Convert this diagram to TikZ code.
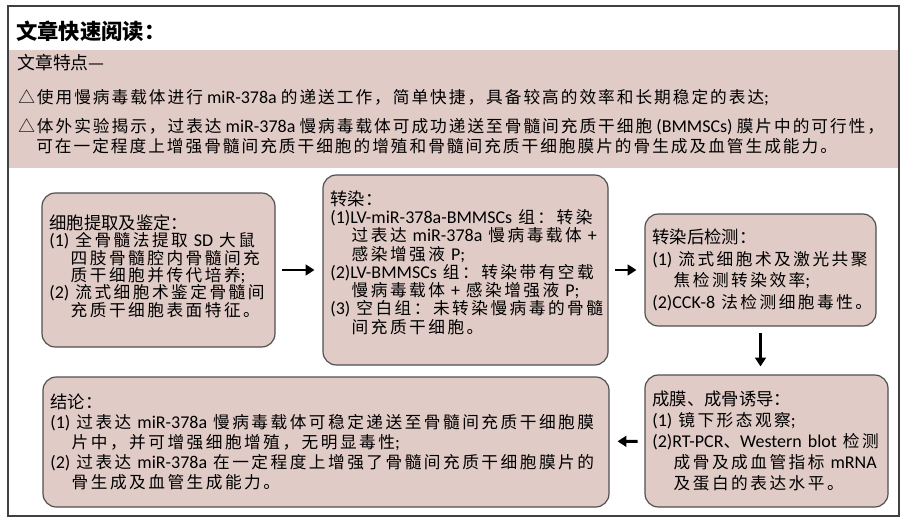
\documentclass[tikz,border=0pt]{standalone}
\usepackage{fontspec}
\setmainfont{Carlito}
\newfontfamily\heifont{Noto Sans CJK SC}
\newfontfamily\kaifont[Scale=0.926, LetterSpace=15]{Noto Sans CJK SC}
\newfontfamily\bandfont[Scale=0.926, LetterSpace=12]{Noto Sans CJK SC}
\usetikzlibrary{arrows.meta}

% Chinese runs go to Noto, everything else stays in Carlito
\XeTeXinterchartokenstate=1
\newXeTeXintercharclass\cjkclass
\newcount\cjkcode
\def\setcjk#1#2{\cjkcode=#1 \loop\XeTeXcharclass\cjkcode=\cjkclass \advance\cjkcode by 1 \ifnum\cjkcode<#2 \repeat}
\setcjk{"3000}{"A000}
\setcjk{"FF00}{"FFF0}
\XeTeXcharclass"25B3=\cjkclass
\XeTeXcharclass"2014=\cjkclass
\let\cjkcur\heifont
\XeTeXinterchartoks 0 \cjkclass={\cjkcur}
\XeTeXinterchartoks 4095 \cjkclass={\cjkcur}
\XeTeXinterchartoks \cjkclass 0={\rmfamily}
\XeTeXinterchartoks \cjkclass 4095={\rmfamily}

\definecolor{cardpink}{RGB}{224,203,198}
\definecolor{cardline}{RGB}{80,80,80}

\newcommand\cardfont[1]{\let\cjkcur\kaifont\fontsize{13.5}{#1}\selectfont}
\newcommand\cardtitle[1]{{\let\cjkcur\heifont\fontsize{13}{13}\selectfont#1}}
\newcommand\ind{\hspace*{16pt}}
\newcommand\lift[1]{\rule[-#1]{0pt}{#1}}

\begin{document}
\begin{tikzpicture}[x=0.75pt, y=-0.75pt,
		card/.style={rectangle, rounded corners=10pt, draw=cardline, fill=cardpink, line width=0.9pt, inner xsep=5.5pt, inner ysep=3pt, align=left},
		band/.style={anchor=base west, inner sep=0pt, font={\let\cjkcur\bandfont\fontsize{13.5}{15}\selectfont}},
		flow/.style={-{Triangle[length=6.5pt,width=8pt]}, line width=2.2pt, shorten <=5pt, shorten >=6pt}]
		\useasboundingbox (0,0) rectangle (924,527);
		\fill[cardpink] (9,50) rectangle (899,168);
		\draw[black!75, line width=0.8pt] (8,6) rectangle (899,516);
		
		\node[anchor=base west, inner sep=0pt, font=\fontsize{16}{16}\selectfont\bfseries] (6) at (16,40) {文章快速阅读：};
		\node[anchor=base west, inner sep=0pt, font=\fontsize{13.4}{14}\selectfont] (7) at (17,70) {文章特点—};
		\node[band] (8) at (18,104) {△使用慢病毒载体进行 miR-378a 的递送工作，简单快捷，具备较高的效率和长期稳定的表达;};
		\node[band] (9) at (18,133) {△体外实验揭示，过表达 miR-378a 慢病毒载体可成功递送至骨髓间充质干细胞 (BMMSCs) 膜片中的可行性，};
		\node[band] (10) at (36,153) {可在一定程度上增强骨髓间充质干细胞的增殖和骨髓间充质干细胞膜片的骨生成及血管生成能力。};
		
		\node[card, text width=163.75pt, minimum height=115.5pt, font={\cardfont{13}}] (1) at (158.5,270) {\cardtitle{细胞提取及鉴定：}\\(1) 全骨髓法提取 SD 大鼠\\\ind 四肢骨髓腔内骨髓间充\\\ind 质干细胞并传代培养;\\(2) 流式细胞术鉴定骨髓间\\\ind 充质干细胞表面特征。\lift{7pt}};
		\node[card, text width=202.75pt, minimum height=142.5pt, font={\cardfont{13.7}}] (2) at (465.5,270) {\cardtitle{转染：}\\(1)LV-miR-378a-BMMSCs 组：转染\\\ind 过表达 miR-378a 慢病毒载体 +\\\ind 感染增强液 P;\\(2)LV-BMMSCs 组：转染带有空载\\\ind 慢病毒载体 + 感染增强液 P;\\(3) 空白组：未转染慢病毒的骨髓\\\ind 间充质干细胞。\lift{12pt}};
		\node[card, text width=162.25pt, minimum height=84pt, font={\cardfont{16.2}}] (3) at (760.5,270) {\cardtitle{转染后检测：}\\(1) 流式细胞术及激光共聚\\\ind 焦检测转染效率;\\\mbox{(2)CCK-8 法检测细胞毒性。}};
		\node[card, text width=171.25pt, minimum height=99pt, font={\cardfont{15.7}}] (4) at (766.5,441) {\cardtitle{成膜、成骨诱导：}\\(1) 镜下形态观察;\\(2)RT-PCR、Western blot 检测\\\ind 成骨及成血管指标 mRNA\\\ind 及蛋白的表达水平。};
		\node[card, text width=413.5pt, minimum height=97.5pt, font={\cardfont{15}}] (5) at (326,442) {\cardtitle{结论：}\\(1) 过表达 miR-378a 慢病毒载体可稳定递送至骨髓间充质干细胞膜\\\ind 片中，并可增强细胞增殖，无明显毒性;\\(2) 过表达 miR-378a 在一定程度上增强了骨髓间充质干细胞膜片的\\\ind 骨生成及血管生成能力。};
		
		\path (1) edge[flow] (2);
		\path (2) edge[flow] (3);
		\path (3.south) edge[flow] (3.south |- 4.north);
		\path (4) edge[flow] (5);
		
	\end{tikzpicture}
\end{document}
